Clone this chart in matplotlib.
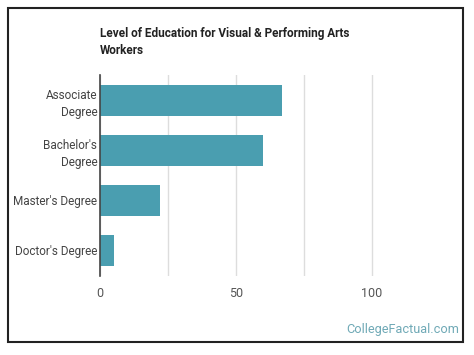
import matplotlib.pyplot as plt
from matplotlib.patches import Rectangle

plt.rcParams['font.family'] = ['Roboto', 'DejaVu Sans']

categories = ["Associate\nDegree", "Bachelor's\nDegree", "Master's Degree", "Doctor's Degree"]
values = [67, 60, 22, 5]
xticks = [0, 50, 100]

fig = plt.figure(figsize=(4.74, 3.55), dpi=100)
ax = fig.add_axes([0.211, 0.2225, 0.717, 0.5665])

ax.barh(range(len(categories)), values, height=0.62, color='#4a9eb0', zorder=3)
ax.set_ylim(3.52, -0.52)
ax.set_xlim(0, 125)
ax.set_yticks(range(len(categories)))
ax.set_yticklabels(categories, fontsize=8.5, color='#444444', linespacing=1.4)
ax.set_xticks(xticks)
ax.set_xticklabels([str(v) for v in xticks], fontsize=9, color='#555555')
ax.set_xticks([25, 75], minor=True)
ax.tick_params(axis='both', which='both', length=0)
ax.tick_params(axis='y', pad=2)
ax.tick_params(axis='x', pad=8)
ax.grid(axis='x', which='both', color='#dddddd', linewidth=1, zorder=0)
for s in ['top', 'right', 'bottom']:
    ax.spines[s].set_visible(False)
ax.spines['left'].set_color('#444444')
ax.spines['left'].set_linewidth(1.2)
ax.spines['left'].set_zorder(4)

fig.text(100 / 474, 1 - 42.5 / 355, "Level of Education for Visual & Performing Arts\nWorkers",
         fontsize=8.5, fontweight='bold', color='#222222', ha='left', va='center', linespacing=1.4)
fig.text(459 / 474, 1 - 330 / 355, "CollegeFactual.com", fontsize=9.2, color='#6fa9b6',
         ha='right', va='center')

fig.add_artist(Rectangle((8 / 474, 1 - 342 / 355), 455 / 474, 334 / 355,
                         transform=fig.transFigure, fill=False, edgecolor='#222222', linewidth=1.5))

fig.savefig('out.png', dpi=100)
